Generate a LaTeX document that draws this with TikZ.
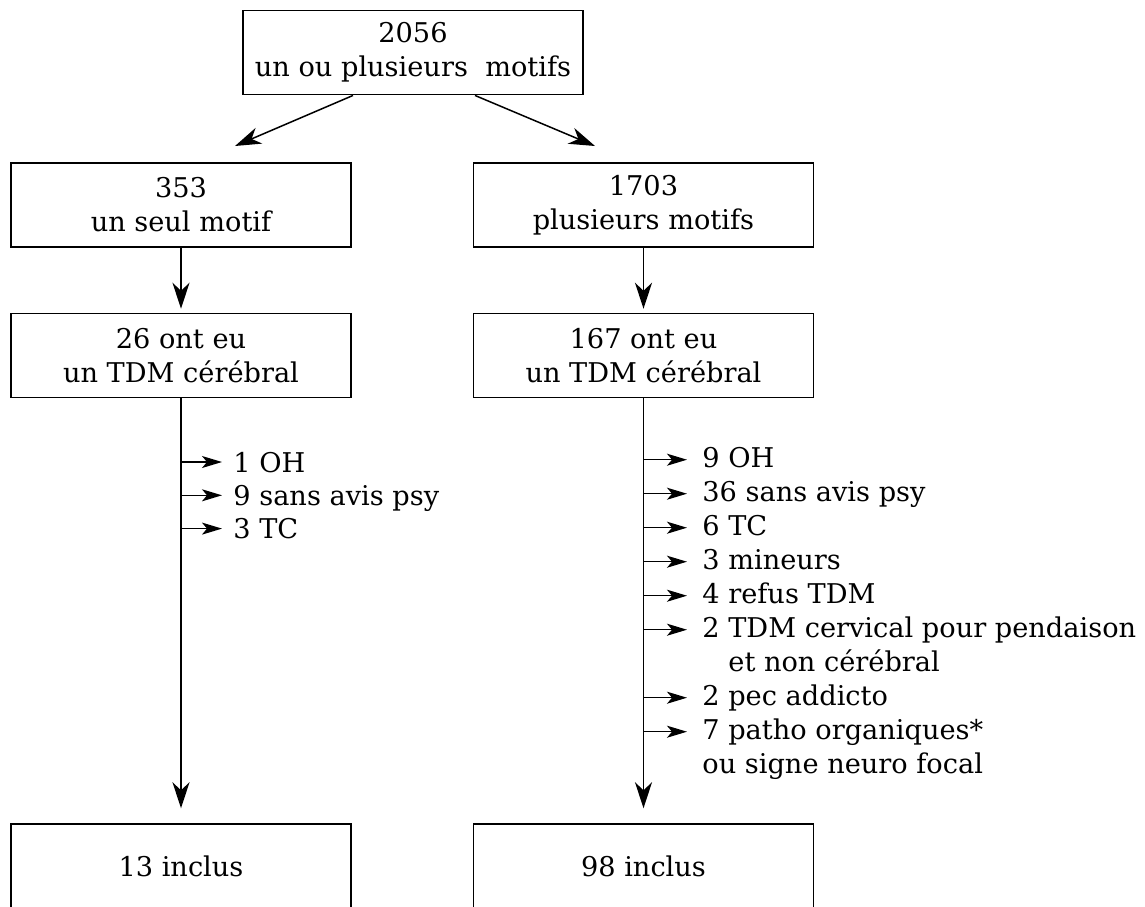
\documentclass[tikz,border=0pt]{standalone}
\usepackage{fontspec}
\setmainfont{DejaVu Serif}
\usetikzlibrary{arrows.meta}
\newcommand*\boxfont{\fontsize{13.6pt}{17pt}\selectfont}
\tikzset{
    box/.style     = {draw, line width=0.75pt, minimum width=170pt, minimum height=42pt,
                      inner sep=0pt, align=center, font=\boxfont},
    item/.style    = {anchor=base west, inner sep=0pt, font=\boxfont},
    flow/.style    = {->, line width=0.75pt},
    sidearrow/.style = {-{Stealth[length=10pt,width=6pt,inset=2.5pt]}, line width=0.7pt},
}

\begin{document}
\begin{tikzpicture}[x=0.5pt, y=-0.5pt, >={Stealth[length=13pt,width=8.5pt,inset=4pt]}]
      \useasboundingbox (0,0) rectangle (1145,906);
      \clip (0,0) rectangle (1145,906);

      % the boxes
      \node[box] (all)  at (413,52.7)   {2056\\un ou plusieurs\ \ motifs};
      \node[box] (one)  at (181,205)    {353\\un seul motif};
      \node[box] (many) at (643.5,205)  {1703\\plusieurs motifs};
      \node[box] (ctL)  at (181,355.5)  {26 ont eu\\un TDM cérébral};
      \node[box] (ctR)  at (643.5,355.5){167 ont eu\\un TDM cérébral};
      \node[box] (inL)  at (181,866)    {13 inclus};
      \node[box] (inR)  at (643.5,866)  {98 inclus};

      % split of the top box
      \coordinate (tipL) at (235,146);
      \coordinate (tipR) at (595,146);
      \draw[flow] ([xshift=-30pt]all.south) -- (tipL);
      \draw[flow] ([xshift=31pt]all.south) -- (tipR);

      % straight down
      \draw[flow, shorten >=2pt] (one)  -- (ctL);
      \draw[flow, shorten >=2pt] (many) -- (ctR);
      \draw[flow, shorten >=7.5pt] (ctL) -- (inL);
      \draw[flow, shorten >=7.5pt] (ctR) -- (inR);

      % left exclusions
      \foreach \t [count=\k from 0] in {1 OH, 9 sans avis psy, 3 TC} {
        \node[item] (l\k) at (233,472+33.3*\k) {\t};
        \path ([yshift=5pt]l\k.base west) coordinate (le\k);
        \draw[sidearrow, shorten >=5.5pt] (ctL.south |- le\k) -- (le\k);
      }

      % right exclusions
      \foreach \t [count=\k from 0] in {9 OH, 36 sans avis psy, 6 TC, 3 mineurs,
          4 refus TDM, 2 TDM cervical pour pendaison, \hspace*{13pt}et non cérébral,
          2 pec addicto, 7 patho organiques*, ou signe neuro focal} {
        \node[item] (r\k) at (702,467.7+34*\k) {\t};
      }
      \foreach \k in {0,1,2,3,4,5,7,8} {
        \path ([yshift=4pt]r\k.base west) coordinate (re\k);
        \draw[sidearrow, shorten >=7.5pt] (ctR.south |- re\k) -- (re\k);
      }
\end{tikzpicture}
\end{document}
